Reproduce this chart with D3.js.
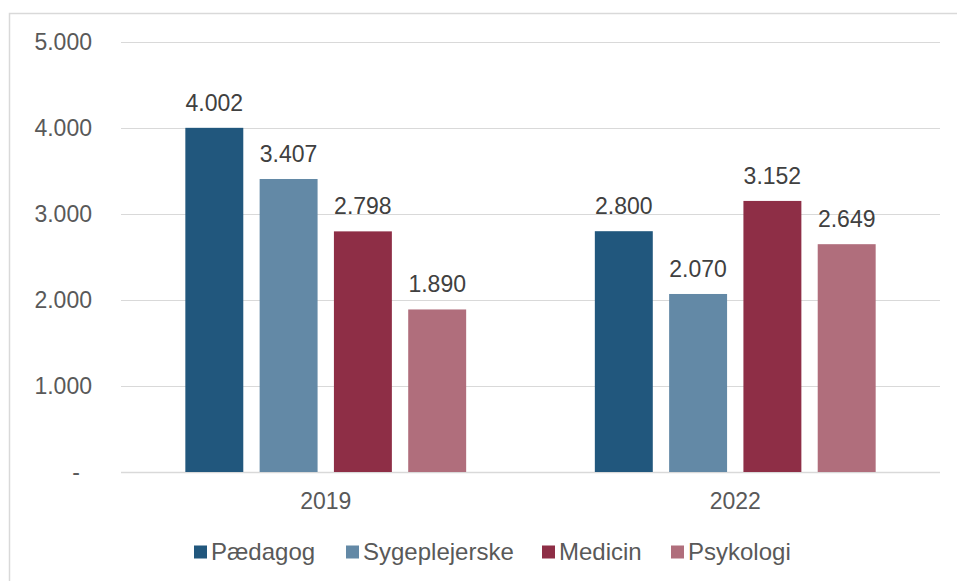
<!DOCTYPE html>
<html>
<head>
<meta charset="utf-8">
<script src="https://cdn.jsdelivr.net/npm/d3@7"></script>
<style>
  body { margin: 0; background: #fff; }
  text { font-family: Arial, "Liberation Sans", sans-serif; }
</style>
</head>
<body>
<svg id="chart" width="957" height="581"></svg>
<script>
// data
const years = ["2019", "2022"];
const series = ["Pædagog", "Sygeplejerske", "Medicin", "Psykologi"];
const colors = ["#21577d", "#6389a6", "#8e2e46", "#b06e7c"];
const values = {
  "2019": [4002, 3407, 2798, 1890],
  "2022": [2800, 2070, 3152, 2649]
};
const yTicks = [0, 1000, 2000, 3000, 4000, 5000];

const svg = d3.select("#chart");
const plot = { left: 121, right: 940, top: 42, bottom: 472 };

// thin outer frame (chart area border), runs off right/bottom edge
svg.append("rect")
  .attr("x", 9.5).attr("y", 13.5)
  .attr("width", 960).attr("height", 600)
  .attr("fill", "none").attr("stroke", "#d9d9d9").attr("stroke-width", 1.5);

const x = d3.scaleBand().domain(years).range([plot.left, plot.right]).paddingInner(0).paddingOuter(0);
const xs = d3.scaleBand().domain(series).range([0, x.bandwidth()]).paddingInner(0.22).paddingOuter(0.866);
const y = d3.scaleLinear().domain([0, 5000]).range([plot.bottom, plot.top]);

const fmt = v => v === 0 ? "-" : d3.format(",")(v).replace(/,/g, ".");

// gridlines
svg.append("g").selectAll("line").data(yTicks).join("line")
  .attr("x1", plot.left).attr("x2", plot.right)
  .attr("y1", d => Math.round(y(d)) + 0.5).attr("y2", d => Math.round(y(d)) + 0.5)
  .attr("stroke", "#d9d9d9").attr("stroke-width", d => d === 0 ? 1.5 : 1);

// y tick labels
svg.append("g").selectAll("text").data(yTicks).join("text")
  .attr("x", d => d === 0 ? 76 : 92)
  .attr("y", d => y(d))
  .attr("dy", "0.35em")
  .attr("text-anchor", d => d === 0 ? "middle" : "end")
  .attr("font-size", 23).attr("fill", "#595959")
  .text(fmt);

// bars
const groups = svg.append("g").selectAll("g").data(years).join("g")
  .attr("transform", d => `translate(${x(d)},0)`);

groups.selectAll("rect")
  .data(yr => values[yr].map((v, i) => ({ s: series[i], v, c: colors[i] })))
  .join("rect")
  .attr("x", d => xs(d.s))
  .attr("y", d => y(d.v))
  .attr("width", xs.bandwidth())
  .attr("height", d => y(0) - y(d.v))
  .attr("fill", d => d.c);

groups.selectAll("text")
  .data(yr => values[yr].map((v, i) => ({ s: series[i], v })))
  .join("text")
  .attr("x", d => xs(d.s) + xs.bandwidth() / 2)
  .attr("y", d => y(d.v) - 17)
  .attr("text-anchor", "middle")
  .attr("font-size", 23).attr("fill", "#404040")
  .text(d => fmt(d.v));

// category labels
svg.append("g").selectAll("text").data(years).join("text")
  .attr("x", d => x(d) + x.bandwidth() / 2)
  .attr("y", 501).attr("dy", "0.35em")
  .attr("text-anchor", "middle")
  .attr("font-size", 23).attr("fill", "#595959")
  .text(d => d);

// legend
const legendX = [194, 346, 542, 671];
const leg = svg.append("g").selectAll("g").data(series).join("g")
  .attr("transform", (d, i) => `translate(${legendX[i]},552)`);
leg.append("rect").attr("x", 0).attr("y", -6.5).attr("width", 13).attr("height", 13)
  .attr("fill", (d, i) => colors[i]);
leg.append("text").attr("x", 17).attr("y", 0).attr("dy", "0.35em")
  .attr("font-size", 24).attr("fill", "#595959")
  .text(d => d);
</script>
</body>
</html>
